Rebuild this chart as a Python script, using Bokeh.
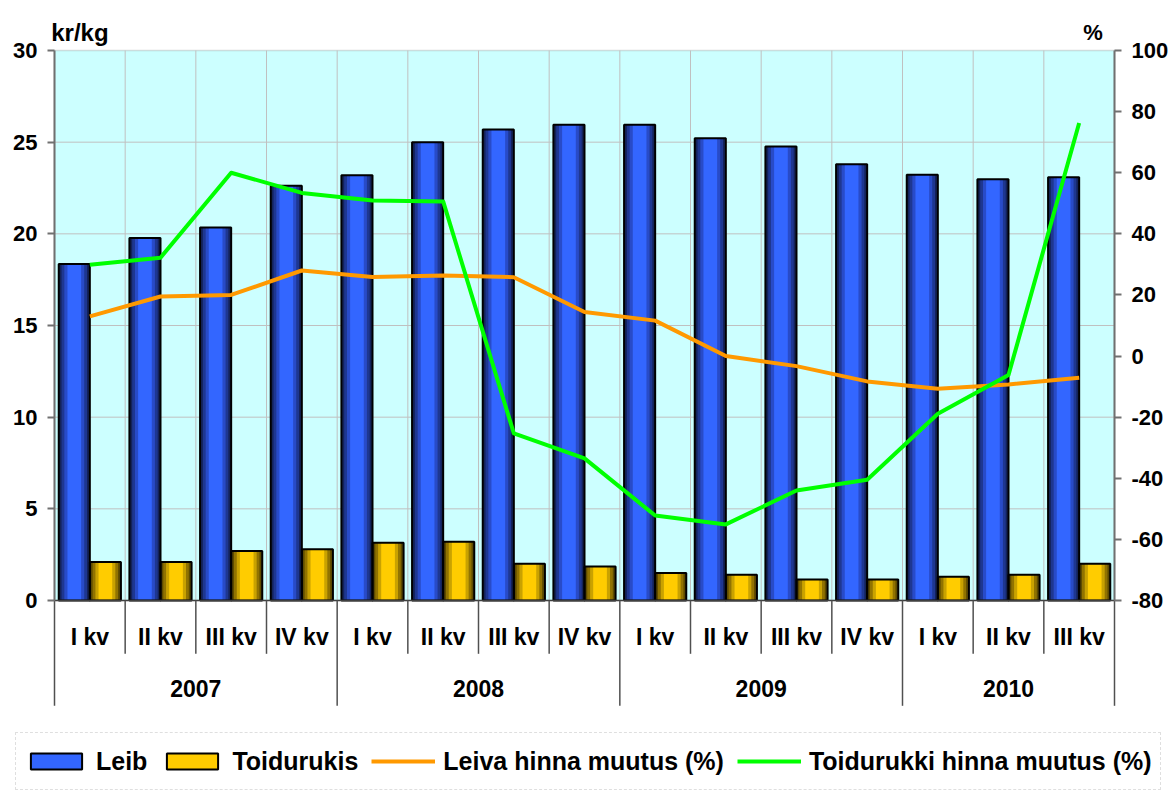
from bokeh.plotting import figure
from bokeh.models import (FactorRange, Range1d, LinearAxis, FixedTicker, BoxAnnotation,
                          Legend, LegendItem, Label, ColumnDataSource)
from bokeh.transform import dodge
from bokeh.core.properties import value
from bokeh.embed import file_html
from bokeh.resources import INLINE

# ---------------- data ----------------
years = ["2007", "2008", "2009", "2010"]
quarters_by_year = [
    ["I kv", "II kv", "III kv", "IV kv"],
    ["I kv", "II kv", "III kv", "IV kv"],
    ["I kv", "II kv", "III kv", "IV kv"],
    ["I kv", "II kv", "III kv"],
]
leib = [18.35, 19.77, 20.35, 22.62, 23.2, 25.0, 25.69, 25.95, 25.95, 25.22,
        24.77, 23.8, 23.22, 22.98, 23.09]
toidurukis = [2.1, 2.1, 2.7, 2.8, 3.15, 3.2, 2.0, 1.85, 1.5, 1.4,
              1.15, 1.15, 1.3, 1.4, 2.0]
leiva_muutus = [13.0, 19.5, 20.0, 28.0, 25.9, 26.4, 25.8, 14.4, 11.6, 0.0,
                -3.3, -8.3, -10.7, -9.3, -7.1]
toidurukki_muutus = [29.9, 32.2, 60.0, 53.4, 50.9, 50.6, -25.3, -33.5, -52.2, -55.1,
                     -44.0, -40.5, -18.9, -6.2, 76.3]
left_ticks = [0, 5, 10, 15, 20, 25, 30]
right_ticks = [-80, -60, -40, -20, 0, 20, 40, 60, 80, 100]
series_names = ["Leib", "Toidurukis", "Leiva hinna muutus (%)", "Toidurukki hinna muutus (%)"]

factors = [(y, q) for y, qs in zip(years, quarters_by_year) for q in qs]

# ---------------- layout constants ----------------
FONT = "Liberation Sans"
H = 796
SIDE_PX = 54                  # white space left/right of the plot area
AREA_W = 1060                 # plot area width in px
W = AREA_W + 2 * SIDE_PX
n = len(factors)
px_x = AREA_W / n
px_left = 550 / 30.0          # px per kr/kg
px_right = 550 / 180.0        # px per %
top_px, bottom_px = 50, H - 600
y_lo, y_hi = -bottom_px / px_left, 30 + top_px / px_left
r_lo, r_hi = -80 - bottom_px / px_right, 100 + top_px / px_right

xr = FactorRange(*factors, group_padding=0, factor_padding=0,
                 range_padding=SIDE_PX / px_x, range_padding_units="absolute")

p = figure(width=W, height=H, output_backend="svg", toolbar_location=None,
           x_range=xr, y_range=Range1d(y_lo, y_hi),
           x_axis_location=None, y_axis_location=None,
           min_border_left=0, min_border_right=0, min_border_top=0, min_border_bottom=0)
p.extra_y_ranges = {"pct": Range1d(r_lo, r_hi)}
p.outline_line_color = None
p.background_fill_color = "white"
p.border_fill_color = "white"
p.xgrid.visible = False
p.ygrid.visible = False

# plot area background
p.add_layout(BoxAnnotation(left=0, right=n, bottom=0, top=30, fill_color="#ccffff",
                           fill_alpha=1, line_color="#909090", line_width=1.5, level="image"))

# boundaries between categories
counts = [len(q) for q in quarters_by_year]
year_bounds = [0]
for c in counts:
    year_bounds.append(year_bounds[-1] + c)
q_bounds = [b for b in range(1, n) if b not in year_bounds]
all_inner = list(range(1, n))
hgrid = left_ticks[1:-1]

p.segment(x0=[0] * len(hgrid), x1=[n] * len(hgrid), y0=hgrid, y1=hgrid,
          line_color="#c0c0c0", line_width=1)
p.segment(x0=all_inner, x1=all_inner, y0=[0] * len(all_inner), y1=[30] * len(all_inner),
          line_color="#c0c0c0", line_width=1)

src = ColumnDataSource(dict(x=factors, leib=leib, toid=toidurukis,
                            lm=leiva_muutus, tm=toidurukki_muutus))

BW = 0.44
leib_cols = ["#14235a", "#1e3791", "#284bc8", "#3366ff"]
toid_cols = ["#5e4b00", "#917300", "#c9a200", "#ffcc00"]
fracs = [1.0, 0.82, 0.64, 0.44]

leib_r, toid_r = [], []
for col, f in zip(leib_cols, fracs):
    leib_r.append(p.vbar(x=dodge("x", -BW / 2, range=xr), top="leib", bottom=0,
                         width=BW * f, source=src, fill_color=col, line_color=None))
for col, f in zip(toid_cols, fracs):
    toid_r.append(p.vbar(x=dodge("x", BW / 2, range=xr), top="toid", bottom=0,
                         width=BW * f, source=src, fill_color=col, line_color=None))
leib_o = p.vbar(x=dodge("x", -BW / 2, range=xr), top="leib", bottom=0, width=BW,
                source=src, fill_color=None, line_color="black", line_width=2)
toid_o = p.vbar(x=dodge("x", BW / 2, range=xr), top="toid", bottom=0, width=BW,
                source=src, fill_color=None, line_color="black", line_width=2)

lm_r = p.line(x="x", y="lm", source=src, y_range_name="pct", line_color="#ff9900",
              line_width=4, line_join="round")
tm_r = p.line(x="x", y="tm", source=src, y_range_name="pct", line_color="#00ff00",
              line_width=4, line_join="round")

# category axis region (drawn below the plot area)
p.segment(x0=[0], x1=[n], y0=[0], y1=[0], line_color="#404040", line_width=1.5)
q_sep_len = 53.3 / px_left
y_sep_len = 105.3 / px_left
p.segment(x0=q_bounds, x1=q_bounds, y0=[0] * len(q_bounds), y1=[-q_sep_len] * len(q_bounds),
          line_color="#505050", line_width=1.5)
p.segment(x0=year_bounds, x1=year_bounds, y0=[0] * len(year_bounds),
          y1=[-y_sep_len] * len(year_bounds), line_color="#505050", line_width=1.5)

p.text(x=factors, y=[-36 / px_left] * n, text=[f[1] for f in factors],
       text_font=value(FONT), text_font_style="bold", text_font_size="23px",
       text_align="center", text_baseline="middle", text_color="black")
p.text(x=years, y=[-87.7 / px_left] * len(years), text=years,
       text_font=value(FONT), text_font_style="bold", text_font_size="23px",
       text_align="center", text_baseline="middle", text_color="black")

# value axes, drawn at the edges of the plot area
ax_l = LinearAxis(bounds=(0, 30), ticker=FixedTicker(ticks=left_ticks), fixed_location=0)
ax_r = LinearAxis(y_range_name="pct", bounds=(-80, 100), ticker=FixedTicker(ticks=right_ticks),
                  fixed_location=n)
ax_r.major_label_overrides = {t: str(t) for t in right_ticks}
for ax in (ax_l, ax_r):
    ax.major_tick_out = 7
    ax.major_tick_in = 0
    ax.minor_tick_line_color = None
    ax.axis_line_color = "#707070"
    ax.axis_line_width = 2
    ax.major_tick_line_color = "#707070"
    ax.major_tick_line_width = 2
    ax.major_label_text_font = FONT
    ax.major_label_text_font_style = "bold"
    ax.major_label_text_font_size = "22px"
    ax.major_label_text_color = "black"
    ax.major_label_standoff = 10
p.add_layout(ax_l, "left")
p.add_layout(ax_r, "right")

p.add_layout(Label(x=-3.3 / px_x, y=30 + 17.7 / px_left, text="kr/kg", text_font=FONT,
                   text_font_style="bold", text_font_size="24px", text_baseline="alphabetic",
                   text_color="black"))
p.add_layout(Label(x=n - 31.3 / px_x, y=30 + 17.7 / px_left, text="%", text_font=FONT,
                   text_font_style="bold", text_font_size="22px", text_baseline="alphabetic",
                   text_color="black"))

# ---------------- legend ----------------
legend = Legend(items=[
    LegendItem(label=series_names[0], renderers=[leib_r[-1], leib_o]),
    LegendItem(label=series_names[1], renderers=[toid_r[-1], toid_o]),
    LegendItem(label=series_names[2], renderers=[lm_r]),
    LegendItem(label=series_names[3], renderers=[tm_r]),
], location=(15, 6), orientation="horizontal", padding=8, spacing=13,
    glyph_width=64, glyph_height=20, label_standoff=8, label_height=40, margin=0,
    label_text_font=FONT, label_text_font_style="bold", label_text_font_size="25px",
    label_text_color="black", border_line_color="#c0c0c0", border_line_width=1.5,
    border_line_dash="11 7 5 7", background_fill_color="white", background_fill_alpha=1)
p.add_layout(legend, "center")

open("out.html", "w").write(file_html(p, INLINE))
